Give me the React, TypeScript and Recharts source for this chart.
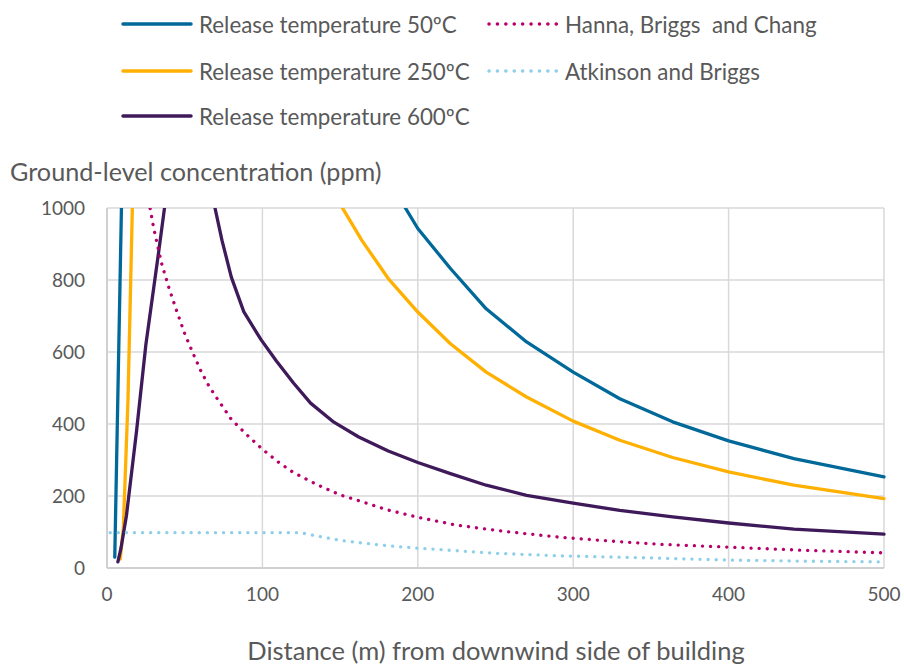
import React from "react"
import { LineChart, Line, XAxis, YAxis, CartesianGrid } from "recharts"

// distances (m) and concentrations (ppm)
const t50X = [5, 10, 20, 100, 162, 181, 200, 221, 244, 270, 300, 330, 364, 400, 442, 500]
const t50Y = [30, 1160, 3000, 2200, 1275, 1079, 943, 832, 720, 628, 544, 470, 406, 353, 304, 253]

const t250X = [8.5, 10.5, 13.5, 17, 30, 100, 131, 146, 164, 181, 200, 221, 244, 270, 300, 330, 364, 400, 442, 500]
const t250Y = [25, 110, 466, 1130, 3000, 2500, 1200, 1040, 910, 804, 711, 623, 544, 475, 408, 355, 307, 267, 230, 193]

const t600X = [7, 9, 12.5, 19, 25, 33, 41, 50, 60, 68, 74, 80, 88, 99, 109, 120, 131, 146, 162, 181, 200, 221, 244, 270, 300, 330, 364, 400, 442, 500]
const t600Y = [17, 55, 145, 380, 620, 870, 1130, 1500, 1300, 1030, 910, 808, 712, 635, 575, 514, 458, 405, 364, 325, 293, 262, 230, 202, 180, 160, 142, 125, 108, 94]

const hannaX = [25, 30, 35, 40, 45, 50, 55, 60, 65, 70, 80, 90, 100, 110, 120, 135, 150, 165, 180, 200, 225, 255, 290, 320, 355, 400, 450, 500]
const hannaY = [1065, 945, 848, 776, 712, 651, 600, 551, 510, 476, 413, 370, 330, 295, 265, 232, 203, 183, 162, 141, 119, 102, 86, 76, 66, 58, 49, 42]

const atkinsonX = [2, 125, 130, 140, 150, 165, 180, 200, 225, 250, 290, 350, 400, 450, 500]
const atkinsonY = [98, 98, 93, 85, 77, 69, 62, 55, 48, 41, 34, 28, 22, 19, 17]

const xTicks = [0, 100, 200, 300, 400, 500]
const yTicks = [0, 200, 400, 600, 800, 1000]

const toPoints = (xs: number[], ys: number[]) => xs.map((x, i) => ({ x, y: ys[i] }))

const series = [
  { name: "Release temperature 50ºC", data: toPoints(t50X, t50Y), color: "#00699a", dotted: false },
  { name: "Release temperature 250ºC", data: toPoints(t250X, t250Y), color: "#ffb000", dotted: false },
  { name: "Release temperature 600ºC", data: toPoints(t600X, t600Y), color: "#3f1a5a", dotted: false },
  { name: "Hanna, Briggs  and Chang", data: toPoints(hannaX, hannaY), color: "#b8006b", dotted: true },
  { name: "Atkinson and Briggs", data: toPoints(atkinsonX, atkinsonY), color: "#8ecfea", dotted: true },
]

const FONT = "Lato, 'Open Sans', sans-serif"
const TEXT = "#595959"

function LegendItem({ s, left, top }: { s: (typeof series)[number]; left: number; top: number }) {
  return (
    <div style={{ position: "absolute", left, top: top - 15, height: 30, display: "flex", alignItems: "center" }}>
      <svg width={72} height={8} style={{ marginRight: 6 }}>
        <line
          x1={2}
          x2={70}
          y1={4}
          y2={4}
          stroke={s.color}
          strokeWidth={3.5}
          strokeLinecap="round"
          strokeDasharray={s.dotted ? "0.1 8.3" : undefined}
        />
      </svg>
      <span style={{ fontSize: 22.4, color: TEXT, whiteSpace: "pre" }}>{s.name}</span>
    </div>
  )
}

export default function App() {
  return (
    <div style={{ position: "absolute", left: 0, top: 0, width: 904, height: 664, background: "#fff", fontFamily: FONT }}>
      <LegendItem s={series[0]} left={121} top={24} />
      <LegendItem s={series[1]} left={121} top={71} />
      <LegendItem s={series[2]} left={121} top={116} />
      <LegendItem s={series[3]} left={487} top={24} />
      <LegendItem s={series[4]} left={487} top={71} />

      <div style={{ position: "absolute", left: 10, top: 156, fontSize: 25.2, lineHeight: "30px", color: TEXT, whiteSpace: "nowrap" }}>
        Ground-level concentration (ppm)
      </div>
      <div
        style={{
          position: "absolute",
          left: 0,
          width: 992,
          top: 637,
          height: 26,
          lineHeight: "26px",
          textAlign: "center",
          fontSize: 25.5,
          color: TEXT,
          whiteSpace: "nowrap",
        }}
      >
        Distance (m) from downwind side of building
      </div>

      <LineChart width={904} height={664} margin={{ top: 208, right: 20, bottom: 66, left: 47 }}>
        <CartesianGrid stroke="#d9d9d9" strokeWidth={1.5} />
        <XAxis
          type="number"
          dataKey="x"
          domain={[0, 500]}
          ticks={xTicks}
          height={30}
          tickLine={false}
          axisLine={{ stroke: "#d0d0d0", strokeWidth: 2 }}
          tick={{ fontSize: 19, fill: TEXT, fontFamily: FONT }}
          tickMargin={14}
        />
        <YAxis
          type="number"
          dataKey="y"
          domain={[0, 1000]}
          allowDataOverflow
          ticks={yTicks}
          width={60}
          tickLine={false}
          axisLine={{ stroke: "#d0d0d0", strokeWidth: 2 }}
          tick={{ fontSize: 19, fill: TEXT, fontFamily: FONT }}
          tickMargin={16}
        />
        {series.map((s) => (
          <Line
            key={s.name}
            data={s.data}
            dataKey="y"
            name={s.name}
            type="linear"
            stroke={s.color}
            strokeWidth={3.3}
            strokeLinecap="round"
            strokeLinejoin="round"
            strokeDasharray={s.dotted ? "0.1 8" : undefined}
            dot={false}
            activeDot={false}
            isAnimationActive={false}
          />
        ))}
      </LineChart>
    </div>
  )
}
